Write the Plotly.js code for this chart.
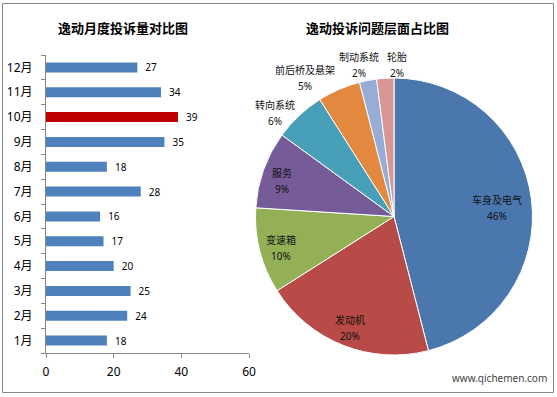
<!DOCTYPE html>
<html><head><meta charset="utf-8">
<script src="https://cdn.plot.ly/plotly-3.0.1.min.js"></script>
<style>body{margin:0;background:#fff}#c{width:557px;height:397px}</style>
</head><body><div id="c"></div>
<script>
const months = ['1月','2月','3月','4月','5月','6月','7月','8月','9月','10月','11月','12月'];
const complaints = [18,24,25,20,17,16,28,18,35,39,34,27];
const barColors = ['#4F81BD','#4F81BD','#4F81BD','#4F81BD','#4F81BD','#4F81BD','#4F81BD','#4F81BD','#4F81BD','#C00000','#4F81BD','#4F81BD'];
const xTicks = [0,20,40,60];

const issues = ['车身及电气','发动机','变速箱','服务','转向系统','前后桥及悬架','制动系统','轮胎'];
const shares = [46,20,10,9,6,5,2,2];
const pieColors = ['#4A77AE','#B84A47','#93B056','#765B99','#47A0B7','#E2883F','#97ADD6','#D99694'];

// label placement (pixels from top-left), kept separate from data
const labelXY = [[497,208],[350,328],[281,248],[282,181],[275,113],[305,78],[359,65],[397,65]];

const W = 557, H = 397;
const font = "'Noto Sans', 'Noto Sans CJK SC', sans-serif";
const cjk = "'Noto Sans CJK SC', sans-serif";

const bar = {
  type:'bar', orientation:'h', x:complaints, y:months,
  marker:{color:barColors}, width:0.4,
  text:complaints.map(v => '\u2002' + v), textposition:'outside', cliponaxis:false,
  constraintext:'none',
  textfont:{size:10, color:'#000', family:font},
  xaxis:'x', yaxis:'y', hoverinfo:'none'
};
const pie = {
  type:'pie', labels:issues, values:shares, sort:false, direction:'clockwise', rotation:0,
  marker:{colors:pieColors, line:{color:'#ffffff', width:1}},
  textinfo:'none',
  domain:{x:[(394-139)/W,(394+139)/W], y:[(397-355)/H,(397-78)/H]},
  showlegend:false, hoverinfo:'none'
};

const annotations = [
  {text:'<b>逸动月度投诉量对比图</b>', xref:'paper', yref:'paper', x:123/W, y:(397-27.5)/H,
   xanchor:'center', yanchor:'middle', showarrow:false, font:{size:13, family:cjk}},
  {text:'<b>逸动投诉问题层面占比图</b>', xref:'paper', yref:'paper', x:377/W, y:(397-27.5)/H,
   xanchor:'center', yanchor:'middle', showarrow:false, font:{size:13, family:cjk}},
  {text:'www.qichemen.com', xref:'paper', yref:'paper', x:499/W, y:(397-378)/H,
   xanchor:'center', yanchor:'middle', showarrow:false, font:{size:10, color:'#444', family:font}}
];
issues.forEach((name, i) => {
  annotations.push({
    text: name, xref:'paper', yref:'paper',
    x: labelXY[i][0]/W, y: (397-labelXY[i][1])/H, xanchor:'center', yanchor:'bottom',
    showarrow:false, borderpad:0, font:{size:10, color:'#111', family:cjk}
  });
  annotations.push({
    text: shares[i] + '%', xref:'paper', yref:'paper',
    x: labelXY[i][0]/W, y: (397-labelXY[i][1])/H, xanchor:'center', yanchor:'top',
    showarrow:false, borderpad:0, font:{size:10, color:'#111', family:font}
  });
});

const layout = {
  width:W, height:H, margin:{l:0,r:0,t:0,b:0},
  paper_bgcolor:'#fff', plot_bgcolor:'#fff', showlegend:false,
  font:{family:font, color:'#000'},
  xaxis:{domain:[46/W,249/W], range:[0,60], tickvals:xTicks, ticks:'outside', ticklen:4,
    tickcolor:'#868686', showline:true, linecolor:'#868686', showgrid:false, zeroline:false,
    tickfont:{size:12, family:font}, ticklabelstandoff:4, fixedrange:true},
  yaxis:{domain:[(397-353)/H,(397-55)/H], type:'category', categoryorder:'array', categoryarray:months,
    range:[-0.5,11.5], ticks:'outside', tickson:'boundaries', ticklen:4, tickcolor:'#868686',
    showline:true, linecolor:'#868686', showgrid:false, tickfont:{size:12, family:font}, ticklabelstandoff:10},
  annotations:annotations,
  shapes:[{type:'rect', xref:'paper', yref:'paper', x0:2.5/W, x1:553.5/W, y0:(397-392.5)/H, y1:(397-3.5)/H,
    line:{color:'#868686', width:1}}]
};
Plotly.newPlot('c',[bar,pie],layout,{staticPlot:true});
</script></body></html>
